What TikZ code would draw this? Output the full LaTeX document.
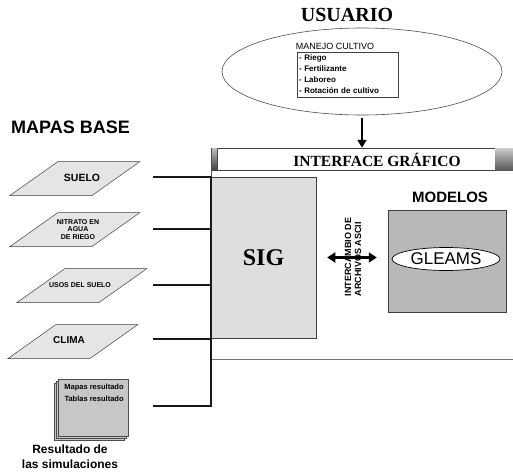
\documentclass[tikz,border=0pt]{standalone}
\usepackage{fontspec}
\setmainfont{Liberation Serif}
\setsansfont{Liberation Sans}
\usetikzlibrary{arrows.meta,shapes.geometric,calc}

\begin{document}
\begin{tikzpicture}[x=1pt, y=-1pt,
  tit/.style={font=\sffamily\bfseries\fontsize{18}{20}\selectfont, inner sep=0pt},
  ser/.style={font=\rmfamily\bfseries, inner sep=0pt},
  mapa/.style={draw=black!75, fill=black!10, line width=0.5pt},
  etq/.style={font=\sffamily\bfseries\fontsize{10.5}{11}\selectfont, inner sep=0pt, align=center},
  caja/.style={draw=black!75, line width=0.5pt, inner sep=0pt},
  bus/.style={line width=2.4pt, black!90},
  hoja/.style={draw=black!70, fill=black!22, line width=0.4pt},
  flecha/.style={-{Triangle[length=8pt, width=9pt]}, line width=2pt},
  doble/.style={{Triangle[length=8pt, width=10pt]}-{Triangle[length=8pt, width=10pt]}, line width=2.5pt}]
\useasboundingbox (0,0) rectangle (513,474);

%% ── usuario ──────────────────────────────────────────────
\node[ser, font=\rmfamily\bfseries\fontsize{20}{22}\selectfont] (usuario) at (347,15) {USUARIO};
\node[ellipse, draw=black!70, line width=0.6pt, minimum width=280, minimum height=87] (elipse) at (362,71.5) {};
\node[font=\sffamily\fontsize{9}{10}\selectfont, inner sep=0pt] (manejo) at (335,46) {MANEJO CULTIVO};
\node[caja, minimum width=101, minimum height=45, text width=97, align=left,
      font=\sffamily\bfseries\fontsize{8}{11}\selectfont] (practicas) at (347.5,74.5)
  {- Riego\\- Fertilizante\\- Laboreo\\- Rotación de cultivo};

%% ── interface ────────────────────────────────────────────
\node[caja, fill=white, minimum width=278, minimum height=22] (barra) at (356,159) {};
\shade[top color=black!25, bottom color=black!75] (211,148) rectangle (217,170);
\shade[top color=black!20, bottom color=black!65] (495,148) rectangle (513,170);
\node[ser, font=\rmfamily\bfseries\fontsize{15.5}{17}\selectfont] (interfaz) at (377,159.5) {INTERFACE GRÁFICO};
\draw[black!70, line width=0.6pt] (211,148) -- (211,177);
\draw[black!55, line width=0.8pt] (211,359) -- (513,359);
\draw[flecha, shorten <=3pt] (elipse.south) -- (elipse.south |- barra.north);

%% ── sig y modelos ────────────────────────────────────────
\node[caja, fill=black!13, minimum width=105, minimum height=161,
      font=\rmfamily\bfseries\fontsize{24}{26}\selectfont] (sig) at (263.5,257.5) {SIG};
\node[font=\sffamily\bfseries\fontsize{15}{17}\selectfont, inner sep=0pt] (modelostit) at (450,197) {MODELOS};
\node[caja, fill=black!28, minimum width=118, minimum height=102] (modelos) at (447,261) {};
\node[ellipse, draw, fill=white, line width=0.7pt, minimum width=108, minimum height=23, inner sep=0pt,
      font=\sffamily\fontsize{17}{18}\selectfont] (gleams) at (446,259) {GLEAMS};
\draw[doble, shorten <=11pt, shorten >=11pt] (sig.east) -- (sig.east -| modelos.west);
\node[rotate=90, align=left, inner sep=0pt, font=\sffamily\bfseries\fontsize{9}{10}\selectfont] (intercambio) at (353,257)
  {INTERCAMBIO DE\\ARCHIVOS ASCII};

%% ── mapas base ───────────────────────────────────────────
\node[tit, anchor=west] (mapas) at (11,127) {MAPAS BASE};
\foreach \cx/\cy in {75/178.5, 75/229.5, 82/285.5, 73/341.5}
  {\filldraw[mapa] (\cx-65,\cy+17) -- ++(82,0) -- ++(48,-34) -- ++(-82,0) -- cycle;}
\node[etq] (suelo) at (82,178) {SUELO};
\node[etq, font=\sffamily\bfseries\fontsize{7}{7.5}\selectfont] (nitrato) at (78,229.5) {NITRATO EN\\AGUA\\DE RIEGO};
\node[etq, font=\sffamily\bfseries\fontsize{7}{8}\selectfont] (usos) at (80,285) {USOS DEL SUELO};
\node[etq, font=\sffamily\bfseries\fontsize{10}{11}\selectfont] (clima) at (69,340) {CLIMA};

%% ── resultados ───────────────────────────────────────────
\foreach \d in {4,2}
  {\filldraw[hoja] (58-\d,379+\d) rectangle ++(70,57);}
\node[hoja, minimum width=70, minimum height=57, inner sep=0pt] (hojas) at (93,407.5) {};
\node[align=right, inner sep=0pt, font=\sffamily\bfseries\fontsize{7.5}{12}\selectfont] (tablas) at (94,393)
  {Mapas resultado\\Tablas resultado};
\node[align=center, inner sep=0pt, font=\sffamily\bfseries\fontsize{12}{15}\selectfont] (simul) at (70,457)
  {Resultado de\\las simulaciones};

%% ── conexiones ───────────────────────────────────────────
\coordinate (e1) at (153,177);
\coordinate (e2) at (153,229);
\coordinate (e3) at (153,285);
\coordinate (e4) at (153,339);
\coordinate (e5) at (153,406);
\draw[bus] (e1) -- (e1 -| sig.west) -- (e5 -| sig.west) -- (e5);
\foreach \e in {e2,e3,e4}{\draw[bus] (\e) -- (\e -| sig.west);}
\end{tikzpicture}
\end{document}
